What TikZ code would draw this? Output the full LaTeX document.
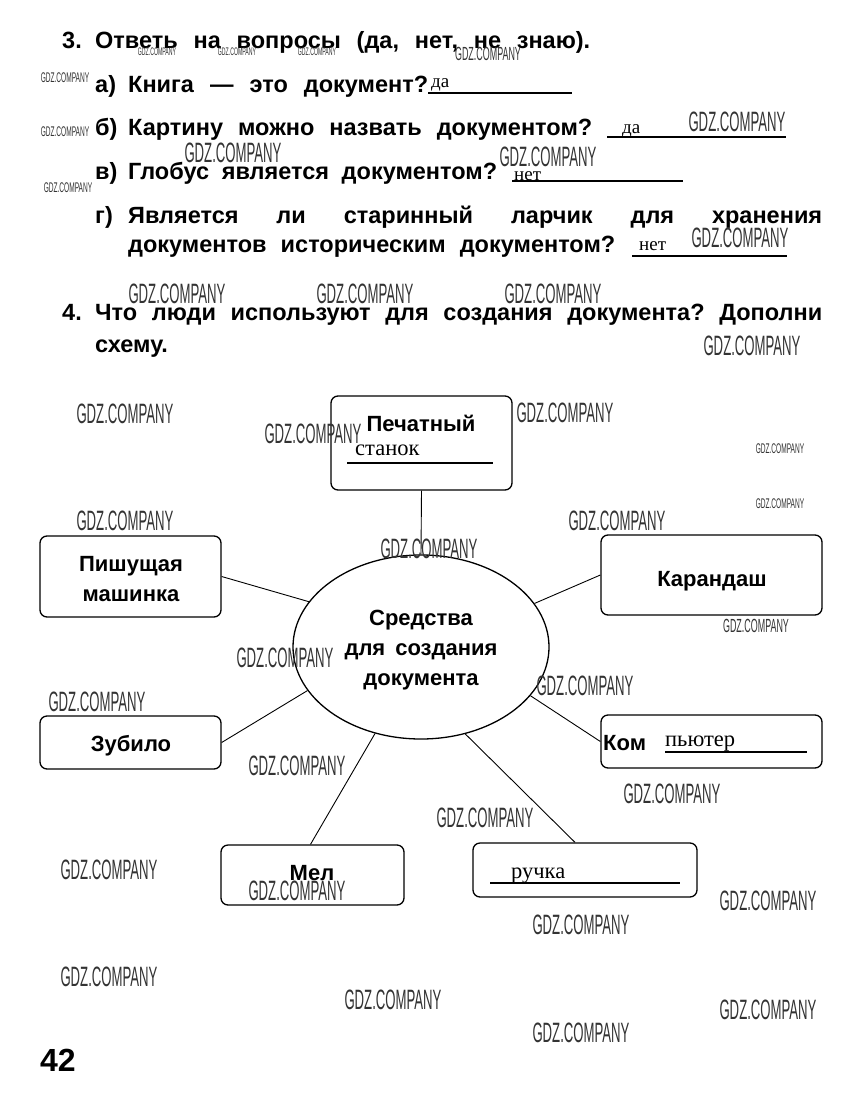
\documentclass[tikz,border=0pt]{standalone}
\usepackage{fontspec}
\setmainfont{Liberation Sans}
\newfontfamily\hand{Liberation Serif}
\newfontfamily\wmf[FakeStretch=0.47]{Liberation Sans}
\usetikzlibrary{shapes.geometric}
\frenchspacing
\tikzset{
 qtxt/.style={anchor=base west, inner sep=0, font=\bfseries\fontsize{23.5}{23.5}\selectfont},
 txt/.style={anchor=base west, inner sep=0, font=\bfseries\fontsize{22}{22}\selectfont},
 ctxt/.style={anchor=base, inner sep=0, font=\bfseries\fontsize{22}{22}\selectfont},
 ans/.style={anchor=base west, inner sep=0, font=\hand\fontsize{22.5}{22.5}\selectfont},
 sans/.style={anchor=base west, inner sep=0, font=\hand\fontsize{19}{19}\selectfont},
 uline/.style={line width=1.4pt},
 boxst/.style={draw, rounded corners=7pt, line width=1.3pt, inner sep=0},
 conn/.style={line width=0.9pt},
 wmbase/.style={inner sep=0, text=black!80},
 wm/.style={wmbase, font=\wmf\fontsize{28}{28}\selectfont},
 wmm/.style={wmbase, font=\wmf\fontsize{19}{19}\selectfont},
 wms/.style={wmbase, font=\wmf\fontsize{14}{14}\selectfont},
 wmt/.style={wmbase, font=\wmf\fontsize{11}{11}\selectfont},
}
\begin{document}
\begin{tikzpicture}[x=1pt,y=-1pt]
\fill[white] (0,0) rectangle (863,1100);
\useasboundingbox (0,0) rectangle (863,1100);

% ---- task 3 ----
\node[qtxt] (n3) at (62,48) {3.};
\node[qtxt] (t3) at (95,48) {\makebox[495pt][s]{Ответь на вопросы (да, нет, не знаю).}};
\node[qtxt] (la) at (95,92) {а)};
\node[qtxt] (ta) at (128,92) {\makebox[300pt][s]{Книга — это документ?}};
\node[qtxt] (lb) at (95,135) {б)};
\node[qtxt] (tb) at (128,135) {\makebox[464pt][s]{Картину можно назвать документом?}};
\node[qtxt] (lv) at (95,179) {в)};
\node[qtxt] (tv) at (128,179) {\makebox[369pt][s]{Глобус является документом?}};
\node[qtxt] (lg) at (95,223) {г)};
\node[qtxt] (tg1) at (128,223) {\makebox[694pt][s]{Является ли старинный ларчик для хранения}};
\node[qtxt] (tg2) at (128,252) {\makebox[487pt][s]{документов историческим документом?}};

\node[sans] (da1) at (431,87) {да};
\node[sans] (da2) at (622,133) {да};
\node[sans] (net1) at (514,180) {нет};
\node[sans] (net2) at (639,250) {нет};
\draw[uline] (428,93) -- (572,93);
\draw[uline] (607,137) -- (786,137);
\draw[uline] (512,181) -- (683,181);
\draw[uline] (632,256) -- (787,256);

% ---- task 4 ----
\node[qtxt] (n4) at (62,320) {4.};
\node[qtxt] (t4) at (95,320) {\makebox[727pt][s]{Что люди используют для создания документа? Дополни}};
\node[qtxt] (t4b) at (95,352) {схему.};

% ---- diagram ----
\node[draw, ellipse, line width=1.3pt, minimum width=256, minimum height=184, inner sep=0] (ell) at (421,647) {};
\node[ctxt] (c1) at (421,625) {Средства};
\node[ctxt] (c2) at (421,655) {для\hspace{10pt}создания};
\node[ctxt] (c3) at (421,685) {документа};

\node[boxst, minimum width=181, minimum height=94] (pech) at (421.5,443) {};
\node[ctxt] (pechT) at (421,431) {Печатный};
\node[ans] (stanok) at (355,455) {станок};
\draw[uline] (347,463) -- (493,463);

\node[boxst, minimum width=181, minimum height=81] (pish) at (130.5,576.5) {};
\node[ctxt] (pish1) at (131,571) {Пишущая};
\node[ctxt] (pish2) at (131,601) {машинка};

\node[boxst, minimum width=221, minimum height=80] (kar) at (711.5,575) {};
\node[ctxt] (karT) at (712,586) {Карандаш};

\node[boxst, minimum width=181, minimum height=53] (zub) at (130.5,742.5) {};
\node[ctxt] (zubT) at (131,751) {Зубило};

\node[boxst, minimum width=221, minimum height=53] (komp) at (711.5,741.5) {};
\node[txt] (kom) at (603,750) {Ком};
\node[ans] (pyuter) at (665,746) {пьютер};
\draw[uline] (665,752) -- (807,752);

\node[boxst, minimum width=183, minimum height=60] (mel) at (312.5,875) {};
\node[ctxt] (melT) at (312,880) {Мел};

\node[boxst, minimum width=224, minimum height=54] (ruch) at (585,870) {};
\node[ans] (ruchka) at (511,878) {ручка};
\draw[uline] (490,883) -- (680,883);

\draw[conn] (pech.south) -- (ell.90);
\draw[conn] (pish.east) -- (ell.158);
\draw[conn] (kar.west) -- (ell.21);
\draw[conn] (zub.east) -- (ell.201);
\draw[conn] (komp.west) -- (ell.336);
\draw[conn] ([xshift=-2pt]mel.north) -- (ell.242);
\draw[conn] ([xshift=-10pt]ruch.north) -- (ell.297);

\node[anchor=base west, inner sep=0, font=\bfseries\fontsize{32}{32}\selectfont] (page) at (40,1071) {42};

% ---- watermarks ----
\node[wmt] (w1) at (157,52) {GDZ.COMPANY};
\node[wmt] (w2) at (237,52) {GDZ.COMPANY};
\node[wmt] (w3) at (317,52) {GDZ.COMPANY};
\node[wmm] (w4) at (488,54) {GDZ.COMPANY};
\node[wms] (w5) at (65,78) {GDZ.COMPANY};
\node[wms] (w6) at (65,132) {GDZ.COMPANY};
\node[wms] (w7) at (68,188) {GDZ.COMPANY};
\node[wm] (w8) at (737,122) {GDZ.COMPANY};
\node[wm] (w9) at (233,153) {GDZ.COMPANY};
\node[wm] (w10) at (548,157) {GDZ.COMPANY};
\node[wm] (w11) at (740,238) {GDZ.COMPANY};
\node[wm] (w12) at (177,294) {GDZ.COMPANY};
\node[wm] (w13) at (365,294) {GDZ.COMPANY};
\node[wm] (w14) at (553,294) {GDZ.COMPANY};
\node[wm] (w15) at (752,346) {GDZ.COMPANY};
\node[wm] (w16) at (125,414) {GDZ.COMPANY};
\node[wm] (w17) at (313,434) {GDZ.COMPANY};
\node[wm] (w18) at (565,413) {GDZ.COMPANY};
\node[wms] (w19) at (780,449) {GDZ.COMPANY};
\node[wms] (w20) at (780,504) {GDZ.COMPANY};
\node[wm] (w21) at (125,521) {GDZ.COMPANY};
\node[wm] (w22) at (617,521) {GDZ.COMPANY};
\node[wm] (w23) at (429,549) {GDZ.COMPANY};
\node[wmm] (w24) at (756,626) {GDZ.COMPANY};
\node[wm] (w25) at (285,658) {GDZ.COMPANY};
\node[wm] (w26) at (585,686) {GDZ.COMPANY};
\node[wm] (w27) at (97,702) {GDZ.COMPANY};
\node[wm] (w28) at (297,766) {GDZ.COMPANY};
\node[wm] (w29) at (672,794) {GDZ.COMPANY};
\node[wm] (w30) at (485,818) {GDZ.COMPANY};
\node[wm] (w31) at (109,870) {GDZ.COMPANY};
\node[wm] (w32) at (297,891) {GDZ.COMPANY};
\node[wm] (w33) at (768,901) {GDZ.COMPANY};
\node[wm] (w34) at (581,925) {GDZ.COMPANY};
\node[wm] (w35) at (109,977) {GDZ.COMPANY};
\node[wm] (w36) at (393,1000) {GDZ.COMPANY};
\node[wm] (w37) at (768,1010) {GDZ.COMPANY};
\node[wm] (w38) at (581,1033) {GDZ.COMPANY};
\end{tikzpicture}
\end{document}
